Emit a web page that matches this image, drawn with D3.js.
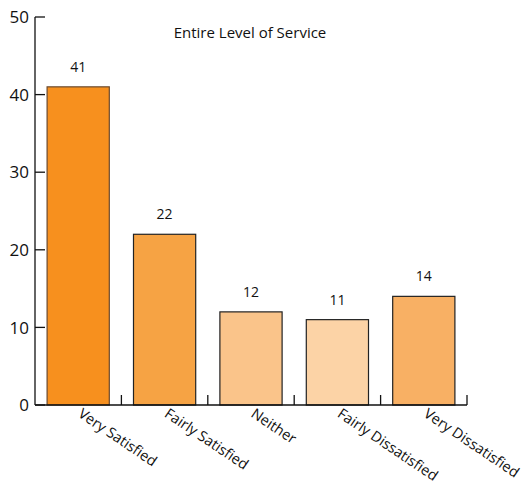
<!DOCTYPE html>
<html><head><meta charset="utf-8">
<script src="https://cdn.jsdelivr.net/npm/d3@7"></script>
<style>body{margin:0;background:#fff}text{font-family:"Open Sans","Noto Sans",sans-serif;fill:#111}</style>
</head><body>
<svg id="c" width="522" height="485"></svg>
<script>
const categories = ["Very Satisfied","Fairly Satisfied","Neither","Fairly Dissatisfied","Very Dissatisfied"];
const values = [41,22,12,11,14];
const colors = ["#F7901E","#F6A344","#FAC48A","#FCD3A6","#F8B064"];
const yTicks = [0,10,20,30,40,50];
const title = "Entire Level of Service";

const svg = d3.select("#c");
const x0=35, x1=467, yTop=17, yBot=405;
const x = d3.scaleBand().domain(categories).range([x0,x1]).paddingInner(0.28).paddingOuter(0.14);
const y = d3.scaleLinear().domain([0,50]).range([yBot,yTop]);

// y axis
svg.append("line").attr("x1",x0).attr("x2",x0).attr("y1",yTop).attr("y2",yBot).attr("stroke","#111").attr("stroke-width",1.3);
svg.selectAll(".yt").data(yTicks).enter().append("line")
  .attr("x1",x0).attr("x2",x0+10).attr("y1",d=>y(d)).attr("y2",d=>y(d)).attr("stroke","#111").attr("stroke-width",1.3);
svg.selectAll(".yl").data(yTicks).enter().append("text")
  .attr("x",x0-6).attr("y",d=>y(d)).attr("dy","0.36em").attr("text-anchor","end")
  .style("font-size","17px").text(d=>d);

// bars
svg.selectAll(".bar").data(values).enter().append("rect")
  .attr("x",(d,i)=>x(categories[i])).attr("width",x.bandwidth())
  .attr("y",d=>y(d)).attr("height",d=>yBot-y(d))
  .attr("fill",(d,i)=>colors[i]).attr("stroke",(d,i)=>i===0?"#6b4a2e":"#222").attr("stroke-width",1.2);

// x axis
svg.append("line").attr("x1",x0).attr("x2",x1).attr("y1",yBot).attr("y2",yBot).attr("stroke","#111").attr("stroke-width",1.3);
const step = x.step();
svg.selectAll(".xt").data(categories).enter().append("line")
  .attr("x1",(d,i)=>x0+step*(i+1)).attr("x2",(d,i)=>x0+step*(i+1))
  .attr("y1",yBot).attr("y2",yBot-10).attr("stroke","#111").attr("stroke-width",1.3);

// value labels
svg.selectAll(".vl").data(values).enter().append("text")
  .attr("x",(d,i)=>x(categories[i])+x.bandwidth()/2).attr("y",d=>y(d)-15)
  .attr("text-anchor","middle").style("font-size","14px").text(d=>d);

// category labels
svg.selectAll(".cl").data(categories).enter().append("text")
  .attr("transform",(d)=>`translate(${x(d)+x.bandwidth()/2-1},${yBot+11}) rotate(34)`)
  .attr("text-anchor","start").style("font-size","14.5px").text(d=>d);

svg.append("text").attr("x",250).attr("y",38).attr("text-anchor","middle").style("font-size","15px").text(title);
</script>
</body></html>
